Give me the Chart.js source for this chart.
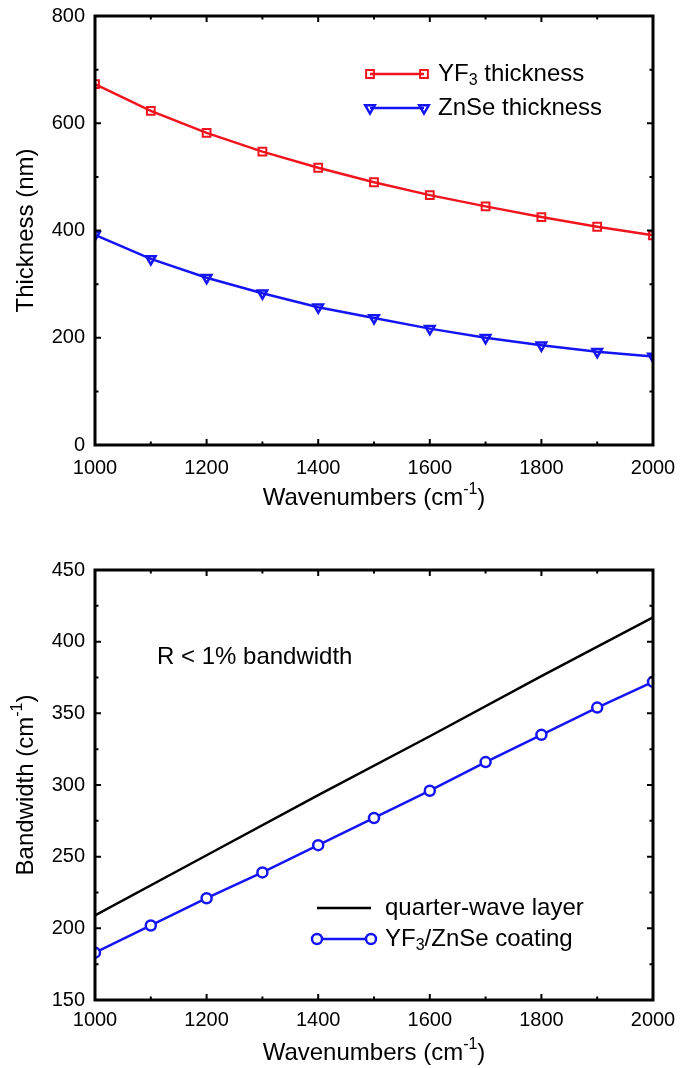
<!DOCTYPE html>
<html>
<head>
<meta charset="utf-8">
<script src="https://cdn.jsdelivr.net/npm/chart.js@4"></script>
<style>
  html, body { margin: 0; padding: 0; background: #fff; }
  canvas { display: block; }
</style>
</head>
<body>
<div style="width:680px;height:520px"><canvas id="grafico-espessura"></canvas></div>
<div style="width:680px;height:548px"><canvas id="grafico-banda"></canvas></div>
<script>
// dados
const wavenumbers = [1000, 1100, 1200, 1300, 1400, 1500, 1600, 1700, 1800, 1900, 2000];
const yf3Thickness = [673, 623, 582, 547, 517, 490, 466, 445, 425, 407, 391];
const znseThickness = [392, 347, 312, 283, 257, 237, 217, 200, 186, 174, 165];

const quarterWaveX = [1000, 1200, 1400, 1600, 1800, 2000];
const quarterWaveBandwidth = [209, 251, 293, 334, 376, 417];
const coatingBandwidth = [183, 202, 221, 239, 258, 277, 296, 316, 335, 354, 372];

const xTicks = [1000, 1200, 1400, 1600, 1800, 2000];
const thicknessTicks = [0, 200, 400, 600, 800];
const bandwidthTicks = [150, 200, 250, 300, 350, 400, 450];

const FONTE = "'Liberation Sans', Arial, Helvetica, sans-serif";
const RED = "#f0141e";
const BLUE = "#1414f5";

function pontos(xs, ys) {
  return xs.map((x, i) => ({ x: x, y: ys[i] }));
}

// texto com sub/sobrescrito: partes [{t, sup}, {t, sub}]
function textoRico(ctx, partes, x, y, tamanho, align) {
  let largura = 0;
  partes.forEach(p => {
    ctx.font = (p.sup || p.sub ? Math.round(tamanho * 0.68) : tamanho) + "px " + FONTE;
    largura += ctx.measureText(p.t).width;
  });
  let cx = align === "center" ? x - largura / 2 : x;
  ctx.textBaseline = "middle";
  ctx.textAlign = "left";
  partes.forEach(p => {
    const pequeno = p.sup || p.sub;
    ctx.font = (pequeno ? Math.round(tamanho * 0.68) : tamanho) + "px " + FONTE;
    let dy = 0;
    if (p.sup) dy = -tamanho * 0.36;
    if (p.sub) dy = tamanho * 0.26;
    ctx.fillText(p.t, cx, y + dy);
    cx += ctx.measureText(p.t).width;
  });
}

const molduraPlugin = {
  id: "moldura",
  afterDatasetsDraw(chart, args, opts) {
    const ctx = chart.ctx;
    const a = chart.chartArea;
    const sx = chart.scales.x;
    const sy = chart.scales.y;
    ctx.save();
    ctx.strokeStyle = "#000";
    ctx.lineWidth = 2;
    const marcas = (escala, passoMenor, vertical) => {
      for (let v = escala.min; v <= escala.max + 1e-6; v += passoMenor) {
        const maior = Math.abs((v - escala.min) % (passoMenor * 2)) < 1e-6;
        const len = maior ? 6 : 3.5;
        const p = escala.getPixelForValue(v);
        ctx.beginPath();
        if (vertical) {
          ctx.moveTo(p, a.bottom); ctx.lineTo(p, a.bottom - len);
          ctx.moveTo(p, a.top); ctx.lineTo(p, a.top + len);
        } else {
          ctx.moveTo(a.left, p); ctx.lineTo(a.left + len, p);
          ctx.moveTo(a.right, p); ctx.lineTo(a.right - len, p);
        }
        ctx.stroke();
      }
    };
    marcas(sx, opts.xMenor, true);
    marcas(sy, opts.yMenor, false);
    ctx.lineWidth = 3;
    ctx.strokeRect(a.left, a.top, a.right - a.left, a.bottom - a.top);
    ctx.restore();
  },
  afterDraw(chart, args, opts) {
    const ctx = chart.ctx;
    const a = chart.chartArea;
    ctx.save();
    ctx.fillStyle = "#000";
    // titulos dos eixos
    textoRico(ctx, opts.tituloX, (a.left + a.right) / 2, a.bottom + 53, 24, "center");
    ctx.save();
    ctx.translate(26, (a.top + a.bottom) / 2);
    ctx.rotate(-Math.PI / 2);
    textoRico(ctx, opts.tituloY, 0, 0, 24, "center");
    ctx.restore();
    // legenda
    opts.legenda.forEach(item => {
      const ds = chart.data.datasets[item.dataset];
      const y = a.top + item.dy;
      const x0 = a.left + item.dx;
      const x1 = x0 + 54;
      ctx.strokeStyle = ds.borderColor;
      ctx.lineWidth = ds.borderWidth;
      ctx.beginPath();
      ctx.moveTo(x0, y);
      ctx.lineTo(x1, y);
      ctx.stroke();
      if (ds.pointRadius > 0) {
        [x0, x1].forEach(px => {
          ctx.fillStyle = ds.pointBackgroundColor;
          ctx.strokeStyle = ds.pointBorderColor;
          ctx.lineWidth = ds.pointBorderWidth;
          Chart.helpers.drawPoint(ctx, {
            pointStyle: ds.pointStyle,
            rotation: ds.pointRotation || 0,
            radius: ds.pointRadius,
            borderWidth: ds.pointBorderWidth
          }, px, y);
        });
      }
      ctx.fillStyle = "#000";
      textoRico(ctx, item.texto, x1 + 14, y, 24, "left");
    });
    (opts.anotacoes || []).forEach(n => {
      ctx.fillStyle = "#000";
      textoRico(ctx, n.texto, a.left + n.dx, a.top + n.dy, 24, "left");
    });
    ctx.restore();
  }
};

function eixos(yMin, yMax, alturaX, paddingX) {
  return {
    x: {
      type: "linear",
      min: 1000,
      max: 2000,
      afterBuildTicks: s => { s.ticks = xTicks.map(v => ({ value: v })); },
      afterFit: s => {
        s.height = alturaX;
        s.paddingLeft = 0;
        s.paddingRight = 0;
      },
      grid: { display: false, drawTicks: false },
      border: { display: false },
      ticks: {
        padding: paddingX,
        color: "#000",
        font: { family: FONTE, size: 20 },
        maxRotation: 0,
        callback: v => String(v)
      }
    },
    y: {
      min: yMin,
      max: yMax,
      afterBuildTicks: s => {
        const lista = yMin === 0 ? thicknessTicks : bandwidthTicks;
        s.ticks = lista.map(v => ({ value: v }));
      },
      afterFit: s => {
        s.width = 95;
        s.paddingTop = 0;
        s.paddingBottom = 0;
      },
      grid: { display: false, drawTicks: false },
      border: { display: false },
      ticks: {
        padding: 10,
        color: "#000",
        font: { family: FONTE, size: 20 },
        callback: v => String(v)
      }
    }
  };
}

function criarGraficos() {
  new Chart(document.getElementById("grafico-espessura"), {
    type: "line",
    data: {
      datasets: [
        {
          label: "YF3 thickness",
          data: pontos(wavenumbers, yf3Thickness),
          borderColor: RED,
          borderWidth: 2.5,
          pointStyle: "rect",
          pointRadius: 5.5,
          pointBorderWidth: 2,
          pointBorderColor: RED,
          pointBackgroundColor: "rgba(255,255,255,0)",
          clip: 0
        },
        {
          label: "ZnSe thickness",
          data: pontos(wavenumbers, znseThickness),
          borderColor: BLUE,
          borderWidth: 2.5,
          pointStyle: "triangle",
          pointRotation: 180,
          pointRadius: 5.5,
          pointBorderWidth: 2.5,
          pointBorderColor: BLUE,
          pointBackgroundColor: "rgba(255,255,255,0)",
          clip: 0
        }
      ]
    },
    options: {
      responsive: true,
      maintainAspectRatio: false,
      animation: false,
      layout: { padding: { top: 16, right: 27, left: 0, bottom: 0 } },
      scales: eixos(0, 800, 75, 11),
      plugins: {
        legend: { display: false },
        tooltip: { enabled: false },
        moldura: {
          xMenor: 100,
          yMenor: 100,
          tituloX: [{ t: "Wavenumbers (cm" }, { t: "-1", sup: true }, { t: ")" }],
          tituloY: [{ t: "Thickness (nm)" }],
          legenda: [
            { dataset: 0, dx: 275, dy: 58, texto: [{ t: "YF" }, { t: "3", sub: true }, { t: " thickness" }] },
            { dataset: 1, dx: 275, dy: 92, texto: [{ t: "ZnSe thickness" }] }
          ]
        }
      }
    },
    plugins: [molduraPlugin]
  });

  new Chart(document.getElementById("grafico-banda"), {
    type: "line",
    data: {
      datasets: [
        {
          label: "quarter-wave layer",
          data: pontos(quarterWaveX, quarterWaveBandwidth),
          borderColor: "#000",
          borderWidth: 2.5,
          pointRadius: 0,
          clip: 0
        },
        {
          label: "YF3/ZnSe coating",
          data: pontos(wavenumbers, coatingBandwidth),
          borderColor: BLUE,
          borderWidth: 2.5,
          pointStyle: "circle",
          pointRadius: 5,
          pointBorderWidth: 2.5,
          pointBorderColor: BLUE,
          pointBackgroundColor: "#fff",
          clip: 0
        }
      ]
    },
    options: {
      responsive: true,
      maintainAspectRatio: false,
      animation: false,
      layout: { padding: { top: 50, right: 27, left: 0, bottom: 0 } },
      scales: eixos(150, 450, 68, 8),
      plugins: {
        legend: { display: false },
        tooltip: { enabled: false },
        moldura: {
          xMenor: 100,
          yMenor: 25,
          tituloX: [{ t: "Wavenumbers (cm" }, { t: "-1", sup: true }, { t: ")" }],
          tituloY: [{ t: "Bandwidth (cm" }, { t: "-1", sup: true }, { t: ")" }],
          legenda: [
            { dataset: 0, dx: 222, dy: 338, texto: [{ t: "quarter-wave layer" }] },
            { dataset: 1, dx: 222, dy: 369, texto: [{ t: "YF" }, { t: "3", sub: true }, { t: "/ZnSe coating" }] }
          ],
          anotacoes: [
            { dx: 62, dy: 87, texto: [{ t: "R < 1% bandwidth" }] }
          ]
        }
      }
    },
    plugins: [molduraPlugin]
  });
}

document.addEventListener("DOMContentLoaded", criarGraficos);
</script>
</body>
</html>
